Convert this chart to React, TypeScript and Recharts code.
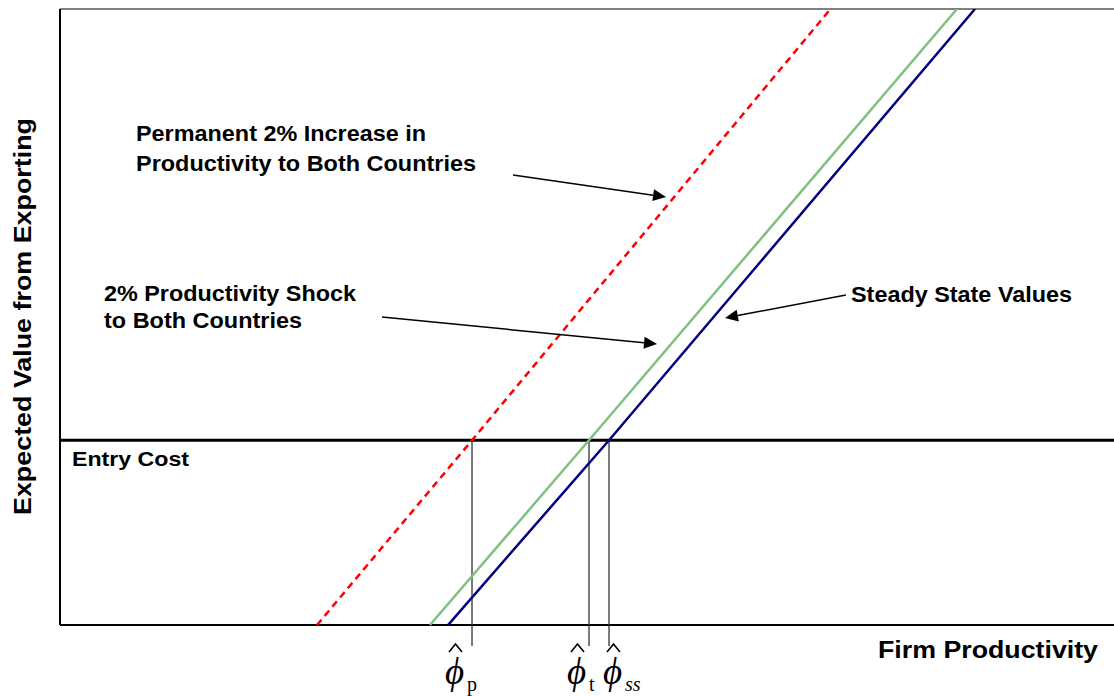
import React from "react";
import { LineChart, Line, XAxis, YAxis, ReferenceLine } from "recharts";

// value curves (firm productivity -> expected value from exporting)
const permanentShock = [
  { x: 24.38, y: 0 },
  { x: 39.09, y: 30 },
  { x: 73.1, y: 100 },
];
const temporaryShock = [
  { x: 35.1, y: 0 },
  { x: 50.19, y: 30 },
  { x: 85.1, y: 100 },
];
const steadyState = [
  { x: 36.81, y: 0 },
  { x: 52.09, y: 30 },
  { x: 86.81, y: 100 },
];
const entryCost = 30;
const cutoffs = [39.09, 50.19, 52.09];

// annotation arrows: [start, tip]
const arrows = [
  [{ x: 42.98, y: 73.05 }, { x: 57.5, y: 69.48 }],
  [{ x: 30.55, y: 50.0 }, { x: 56.64, y: 45.62 }],
  [{ x: 74.57, y: 53.57 }, { x: 63.09, y: 49.84 }],
];

const SANS = '"Liberation Sans", Arial, sans-serif';
const SERIF = '"Liberation Serif", "Times New Roman", serif';

function ArrowShape(props: any) {
  const { x1, y1, x2, y2 } = props;
  const ang = Math.atan2(y2 - y1, x2 - x1);
  const len = 13;
  const hw = 6;
  const bx = x2 - len * Math.cos(ang);
  const by = y2 - len * Math.sin(ang);
  const px = -Math.sin(ang) * hw;
  const py = Math.cos(ang) * hw;
  return (
    <g>
      <line x1={x1} y1={y1} x2={bx} y2={by} stroke="#000" strokeWidth={1.5} />
      <polygon
        points={`${x2},${y2} ${bx + px},${by + py} ${bx - px},${by - py}`}
        fill="#000"
      />
    </g>
  );
}

function Phi({ x, sub, italicSub }: { x: number; sub: string; italicSub?: boolean }) {
  return (
    <g fontFamily={SERIF} fill="#000">
      <path
        d={`M${x + 3},${652} L${x + 9.5},${644} L${x + 16},${652}`}
        fill="none"
        stroke="#000"
        strokeWidth={1.6}
      />
      <text x={x - 1} y={684} fontSize={37} fontStyle="italic">
        ϕ
      </text>
      <text x={x + 21} y={691} fontSize={20} fontStyle={italicSub ? "italic" : "normal"}>
        {sub}
      </text>
    </g>
  );
}

export default function App() {
  return (
    <div style={{ position: "absolute", left: 0, top: 0, width: 1114, height: 696, background: "#fff" }}>
      <LineChart width={1114} height={696} margin={{ top: 9, right: 0, left: 60, bottom: 50 }}>
        <XAxis type="number" dataKey="x" domain={[0, 100]} allowDataOverflow hide />
        <YAxis type="number" dataKey="y" domain={[-3.4, 100]} allowDataOverflow hide />
        <ReferenceLine y={100} stroke="#808080" strokeWidth={2} />
        <ReferenceLine y={0} stroke="#000" strokeWidth={2} />
        <ReferenceLine
          segment={[{ x: 0, y: 0 }, { x: 0, y: 100 }]}
          stroke="#000"
          strokeWidth={2}
        />
        <ReferenceLine y={entryCost} stroke="#000" strokeWidth={3} />
        {cutoffs.map((c, i) => (
          <ReferenceLine
            key={i}
            segment={[{ x: c, y: entryCost }, { x: c, y: -3.4 }]}
            stroke="#333"
            strokeWidth={1.3}
          />
        ))}
        <Line
          data={permanentShock}
          dataKey="y"
          stroke="#ff0000"
          strokeWidth={2.5}
          strokeDasharray="7 5"
          dot={false}
          isAnimationActive={false}
        />
        <Line
          data={temporaryShock}
          dataKey="y"
          stroke="#80c080"
          strokeWidth={2.5}
          dot={false}
          isAnimationActive={false}
        />
        <Line
          data={steadyState}
          dataKey="y"
          stroke="#000080"
          strokeWidth={2.5}
          dot={false}
          isAnimationActive={false}
        />
        {arrows.map((a, i) => (
          <ReferenceLine key={"a" + i} segment={a} shape={ArrowShape} />
        ))}
      </LineChart>
      <svg
        width={1114}
        height={696}
        style={{ position: "absolute", left: 0, top: 0, pointerEvents: "none" }}
      >
        <g fontFamily={SANS} fontWeight="bold" fill="#000">
          <text x={136} y={141} fontSize={22} textLength={290} lengthAdjust="spacingAndGlyphs">
            Permanent 2% Increase in
          </text>
          <text x={136} y={170.5} fontSize={22} textLength={340} lengthAdjust="spacingAndGlyphs">
            Productivity to Both Countries
          </text>
          <text x={104} y={301} fontSize={22} textLength={252} lengthAdjust="spacingAndGlyphs">
            2% Productivity Shock
          </text>
          <text x={104} y={328} fontSize={22} textLength={198} lengthAdjust="spacingAndGlyphs">
            to Both Countries
          </text>
          <text x={851} y={302} fontSize={22} textLength={221} lengthAdjust="spacingAndGlyphs">
            Steady State Values
          </text>
          <text x={72} y={466} fontSize={20} textLength={117} lengthAdjust="spacingAndGlyphs">
            Entry Cost
          </text>
          <text x={878} y={658} fontSize={23} textLength={220} lengthAdjust="spacingAndGlyphs">
            Firm Productivity
          </text>
          <text
            transform="translate(31,515) rotate(-90)"
            fontSize={24}
            textLength={397}
            lengthAdjust="spacingAndGlyphs"
          >
            Expected Value from Exporting
          </text>
        </g>
        <Phi x={446} sub="p" />
        <Phi x={568} sub="t" />
        <Phi x={604} sub="ss" italicSub />
      </svg>
    </div>
  );
}
